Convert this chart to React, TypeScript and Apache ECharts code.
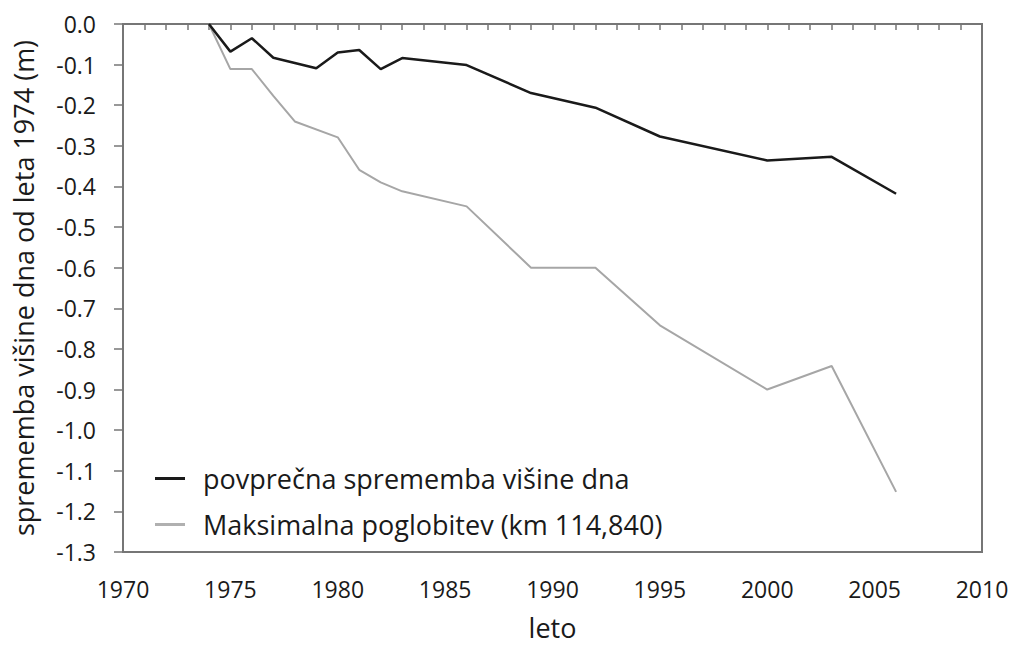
import React, { useEffect, useRef } from "react";
import * as echarts from "echarts";

const years1 = [1974, 1975, 1976, 1977, 1978, 1979, 1980, 1981, 1982, 1983, 1986, 1989, 1992, 1995, 2000, 2003, 2006];
const meanChange = [0, -0.068, -0.035, -0.083, -0.096, -0.109, -0.07, -0.064, -0.111, -0.084, -0.101, -0.17, -0.206, -0.277, -0.336, -0.327, -0.418];
const years2 = [1974, 1975, 1976, 1977, 1978, 1980, 1981, 1982, 1983, 1986, 1989, 1992, 1995, 2000, 2003, 2006];
const maxDeepening = [0, -0.111, -0.111, -0.177, -0.24, -0.279, -0.359, -0.39, -0.412, -0.449, -0.6, -0.6, -0.742, -0.9, -0.842, -1.152];
const seriesNames = ["povprečna sprememba višine dna", "Maksimalna poglobitev (km 114,840)"];

const FONT = "'Open Sans', sans-serif";

export default function App() {
  const ref = useRef<HTMLDivElement>(null);
  useEffect(() => {
    if (!ref.current) return;
    const chart = echarts.init(ref.current, undefined, { renderer: "svg" });
    const axisColor = "#767676";
    chart.setOption({
      animation: false,
      backgroundColor: "#ffffff",
      grid: { left: 123, top: 24, right: 32, bottom: 93, show: true, borderColor: axisColor, borderWidth: 2 },
      legend: {
        orient: "vertical",
        left: 150,
        top: 460,
        itemWidth: 30,
        itemHeight: 3,
        itemGap: 19,
        icon: "rect",
        data: [
          { name: seriesNames[0], itemStyle: { color: "#1a1a1a" } },
          { name: seriesNames[1], itemStyle: { color: "#b0b0b0" } },
        ],
        textStyle: { fontFamily: FONT, fontSize: 27, color: "#1a1a1a", padding: [0, 0, 0, 13] },
      },
      xAxis: {
        type: "value",
        min: 1970,
        max: 2010,
        interval: 1,
        name: "leto",
        nameLocation: "middle",
        nameGap: 62,
        nameTextStyle: { fontFamily: FONT, fontSize: 27, color: "#1a1a1a" },
        axisLine: { show: true, lineStyle: { color: axisColor, width: 2 } },
        axisTick: { show: true, length: 6, lineStyle: { color: axisColor, width: 1.5 } },
        splitLine: { show: false },
        axisLabel: {
          fontFamily: FONT,
          fontSize: 23,
          color: "#1a1a1a",
          margin: 25,
          formatter: (v: number) => (v % 5 === 0 ? String(v) : ""),
        },
      },
      yAxis: {
        type: "value",
        min: -1.3,
        max: 0,
        interval: 0.1,
        name: "sprememba višine dna od leta 1974 (m)",
        nameLocation: "middle",
        nameGap: 86,
        nameTextStyle: { fontFamily: FONT, fontSize: 27, color: "#1a1a1a" },
        axisLine: { show: true, lineStyle: { color: axisColor, width: 2 } },
        axisTick: { show: true, length: 9, lineStyle: { color: axisColor, width: 1.5 } },
        splitLine: { show: false },
        axisLabel: {
          fontFamily: FONT,
          fontSize: 23,
          color: "#1a1a1a",
          margin: 27,
          formatter: (v: number) => v.toFixed(1),
        },
      },
      series: [
        {
          name: seriesNames[0],
          type: "line",
          symbol: "none",
          data: years1.map((y, i) => [y, meanChange[i]]),
          lineStyle: { color: "#1a1a1a", width: 2.5 },
          itemStyle: { color: "#1a1a1a" },
          z: 3,
        },
        {
          name: seriesNames[1],
          type: "line",
          symbol: "none",
          data: years2.map((y, i) => [y, maxDeepening[i]]),
          lineStyle: { color: "#a6a6a6", width: 2 },
          itemStyle: { color: "#b0b0b0" },
          z: 2,
        },
      ],
    });
    return () => chart.dispose();
  }, []);
  return <div ref={ref} style={{ width: 1014, height: 646, position: "absolute", left: 0, top: 0 }} />;
}
